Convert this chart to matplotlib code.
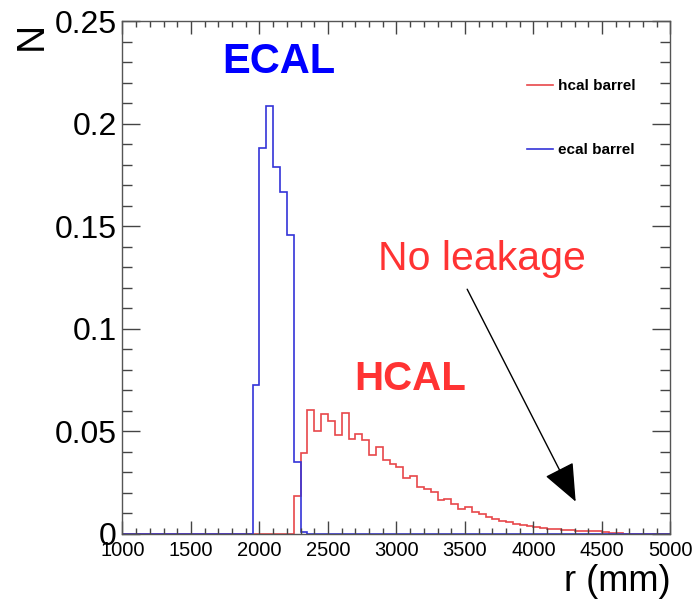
import numpy as np
import matplotlib
matplotlib.use('Agg')
import matplotlib.pyplot as plt
from matplotlib.ticker import MultipleLocator

plt.rcParams['font.family'] = ['Liberation Sans', 'DejaVu Sans']

# bin edges, 50 mm bins from 1000 to 5000
edges = np.arange(1000, 5001, 50)

# ecal barrel, first filled bin starts at 1950
ecal_start = 1950
ecal_vals = [0.0727, 0.1884, 0.2086, 0.1789, 0.1668, 0.146, 0.0353, 0.001]

# hcal barrel, first filled bin starts at 2250
hcal_start = 2250
hcal_vals = [0.0186, 0.0396, 0.0607, 0.050, 0.0586, 0.0553, 0.0484, 0.0591,
             0.0461, 0.0489, 0.0456, 0.0386, 0.0423, 0.0359, 0.0342, 0.0326,
             0.0272, 0.0285, 0.0228, 0.0217, 0.0207, 0.0168, 0.0172, 0.0147,
             0.0123, 0.0133, 0.0106, 0.0095, 0.0082, 0.0072, 0.0063, 0.0058,
             0.0049, 0.0042, 0.0038, 0.0033, 0.0029, 0.0025, 0.0022, 0.0019,
             0.0017, 0.0016, 0.0015, 0.0014, 0.0013, 0.0010, 0.0006, 0.0004]


def fill_bins(start, vals):
    h = np.zeros(len(edges) - 1)
    i0 = int((start - edges[0]) // 50)
    h[i0:i0 + len(vals)] = vals
    return h


ecal = fill_bins(ecal_start, ecal_vals)
hcal = fill_bins(hcal_start, hcal_vals)

fig = plt.figure(figsize=[6.94, 6.02], dpi=100)
ax = fig.add_axes([0.1765, 0.113, 0.7896, 0.8513])

ax.stairs(hcal, edges, color='#e8474a', lw=1.2, label='hcal barrel')
ax.stairs(ecal, edges, color='#3434d8', lw=1.2, label='ecal barrel')

ax.set_xlim(1000, 5000)
ax.set_ylim(0, 0.25)

# root style ticks
ax.xaxis.set_major_locator(MultipleLocator(500))
ax.xaxis.set_minor_locator(MultipleLocator(100))
ax.yaxis.set_major_locator(MultipleLocator(0.05))
ax.yaxis.set_minor_locator(MultipleLocator(0.01))
ax.set_yticks([0, 0.05, 0.1, 0.15, 0.2, 0.25])
ax.set_yticklabels(['0', '0.05', '0.1', '0.15', '0.2', '0.25'])
ax.tick_params(axis='both', which='both', direction='in', top=True, right=True, color='#444444', width=1)
ax.tick_params(axis='x', which='major', length=9.5, labelsize=14.5, pad=5)
ax.tick_params(axis='x', which='minor', length=4.5)
ax.tick_params(axis='y', which='major', length=13, labelsize=23, pad=4)
ax.tick_params(axis='y', which='minor', length=7)
for s in ax.spines.values():
    s.set_color('#555555')
    s.set_linewidth(1)

ax.set_xlabel('r (mm)', loc='right', fontsize=26, labelpad=3)
ax.set_ylabel('N', loc='top', fontsize=28, labelpad=4)

leg = ax.legend(loc='upper left', bbox_to_anchor=(0.738, 0.888), frameon=False,
                prop={'size': 11, 'weight': 'bold'}, handlelength=1.7,
                handletextpad=0.35, labelspacing=3.3, borderpad=0, borderaxespad=0)

ax.text(1727, 0.2247, 'ECAL', color='#0000ff', fontsize=30, fontweight='bold', va='baseline')
ax.text(2692, 0.0702, 'HCAL', color='#ff3333', fontsize=29, fontweight='bold', va='baseline')
ax.text(2868, 0.1288, 'No leakage', color='#ff3333', fontsize=29.5, va='baseline')
ax.annotate('', xy=(4308, 0.0158), xytext=(3516, 0.1194),
            arrowprops=dict(arrowstyle='-|>,head_length=1.2,head_width=0.5', color='black',
                            lw=1, mutation_scale=20, shrinkA=0, shrinkB=0))

fig.savefig('out.png', dpi=100)
